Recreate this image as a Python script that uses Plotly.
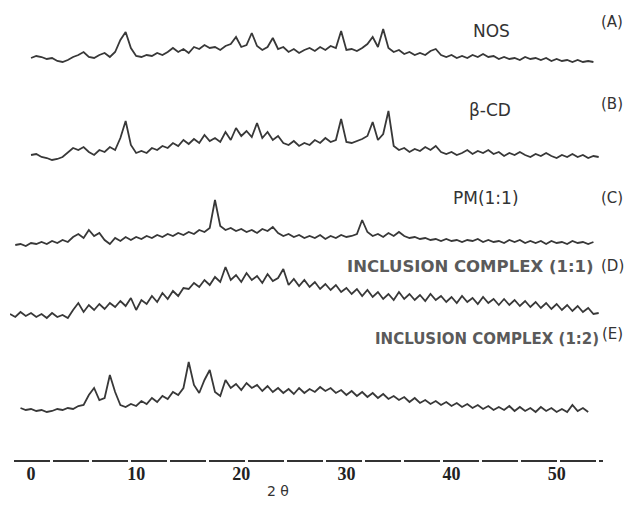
import plotly.graph_objects as go

# ---- data -------------------------------------------------------------
two_theta = [round(-2 + 0.5 * i, 1) for i in range(113)]   # -2 .. 54 deg

N = None
nos = [N, N, N, N,
       12, 14, 13, 11, 12, 9, 8, 10, 13, 15,
       18, 13, 12, 15, 17, 13, 18, 30, 38, 22,
       14, 13, 15, 14, 17, 15, 18, 22, 18, 21,
       17, 23, 21, 25, 22, 23, 20, 24, 26, 33,
       23, 25, 37, 24, 20, 23, 32, 21, 23, 18,
       21, 17, 20, 22, 19, 23, 20, 24, 22, 39,
       20, 21, 19, 22, 26, 33, 23, 41, 22, 18,
       20, 16, 18, 15, 17, 15, 19, 21, 15, 13,
       15, 12, 14, 12, 15, 13, 16, 13, 14, 11,
       13, 11, 12, 10, 13, 11, 12, 10, 12, 9,
       11, 9, 10, 8, 10, 8, 9, 8,
       N]

beta_cd = [N, N, N, N,
           10, 11, 8, 7, 5, 6, 8, 13, 17, 15,
           18, 13, 10, 15, 13, 18, 15, 27, 44, 20,
           12, 14, 12, 17, 15, 19, 17, 22, 19, 25,
           21, 26, 22, 30, 24, 27, 23, 33, 25, 37,
           29, 34, 28, 42, 27, 33, 25, 29, 22, 20,
           24, 19, 22, 20, 25, 22, 27, 23, 25, 46,
           23, 22, 24, 26, 29, 43, 25, 31, 54, 19,
           15, 17, 13, 16, 14, 18, 15, 19, 13, 11,
           13, 10, 12, 15, 11, 14, 12, 15, 11, 13,
           9, 12, 10, 13, 10, 8, 11, 9, 12, 9,
           7, 10, 8, 11, 8, 10, 7, 9, 8]

pm_11 = [N, 10, 11, 9,
         12, 11, 13, 11, 14, 12, 15, 13, 18, 21,
         17, 25, 19, 22, 15, 11, 17, 14, 18, 15,
         18, 16, 19, 17, 20, 18, 21, 19, 22, 20,
         23, 21, 25, 23, 27, 55, 29, 25, 27, 24,
         26, 23, 25, 22, 26, 24, 28, 22, 19, 21,
         18, 20, 17, 19, 17, 20, 16, 19, 17, 20,
         18, 19, 21, 35, 23, 19, 21, 18, 22, 19,
         23, 19, 17, 18, 16, 17, 15, 16, 14, 16,
         14, 15, 13, 15, 14, 16, 13, 15, 13, 14,
         12, 15, 13, 15, 12, 14, 12, 14, 11, 14,
         12, 13, 11, 14, 12, 13, 11, 13,
         N]

ic_11 = [11, 8, 13, 9,
         12, 8, 11, 7, 12, 8, 10, 7, 15, 22,
         13, 20, 15, 21, 16, 22, 18, 24, 19, 27,
         15, 25, 21, 29, 23, 32, 26, 34, 29, 37,
         36, 42, 38, 45, 40, 48, 43, 58, 45, 50,
         43, 52, 45, 49, 42, 51, 44, 47, 56, 40,
         46, 39, 45, 38, 43, 36, 41, 35, 40, 33,
         37, 31, 36, 29, 35, 28, 33, 26, 31, 25,
         33, 26, 31, 25, 30, 24, 31, 25, 29, 23,
         28, 22, 29, 23, 27, 21, 28, 22, 26, 20,
         26, 20, 25, 19, 24, 18, 23, 17, 22, 16,
         21, 15, 20, 14, 19, 13, 17, 11, 12]

ic_12 = [N, N, 12, 10,
         11, 9, 10, 8, 9, 11, 10, 12, 11, 14,
         15, 25, 32, 20, 22, 45, 28, 15, 13, 16,
         14, 19, 16, 22, 18, 24, 21, 28, 25, 32,
         58, 35, 27, 40, 50, 28, 24, 40, 32, 36,
         30, 37, 32, 35, 29, 34, 28, 32, 27, 31,
         26, 32, 27, 31, 28, 33, 29, 32, 27, 30,
         25, 29, 24, 28, 23, 27, 22, 26, 21, 24,
         20, 23, 18, 22, 17, 20, 16, 19, 15, 18,
         14, 17, 13, 16, 12, 15, 11, 14, 10, 13,
         10, 14, 9, 13, 9, 12, 8, 13, 9, 12,
         8, 11, 8, 15, 9, 12, 8, N, N]

series = [nos, beta_cd, pm_11, ic_11, ic_12]
names = ["NOS", "β-CD", "PM(1:1)", "INCLUSION COMPLEX (1:1)", "INCLUSION COMPLEX (1:2)"]
letters = ["(A)", "(B)", "(C)", "(D)", "(E)"]
x_ticks = [0, 10, 20, 30, 40, 50]

# ---- layout constants (screen pixels; page body has an 8px margin) -----
OFF = 8
W, H = 633 - 2 * OFF, 505 - OFF
PL, PR, PT, PB = 10, 605, 8, 461        # plot area on screen
ML, MR, MT, MB = PL - OFF, W - (PR - OFF), PT - OFF, H - (PB - OFF)
PW, PH = PR - PL, PB - PT
base_px = [70, 165, 255, 325, 420]     # screen row of intensity 0 for each panel
span = [50, 60, 60, 65, 65]            # intensity range shown in each panel


def sx(px):
    return (px - PL) / PW


def sy(py):
    return (PB - py) / PH


line_col = "#383838"
fig = go.Figure()
layout_axes = {}
for k, (ys, nm) in enumerate(zip(series, names)):
    ax = "y" if k == 0 else f"y{k+1}"
    fig.add_trace(go.Scatter(x=two_theta, y=ys, mode="lines", name=nm,
                             yaxis=ax, connectgaps=False,
                             line=dict(color=line_col, width=1.8)))
    key = "yaxis" if k == 0 else f"yaxis{k+1}"
    layout_axes[key] = dict(domain=[sy(base_px[k]), sy(base_px[k] - span[k])],
                            range=[0, span[k]], visible=False, fixedrange=True)

fig.update_layout(**layout_axes)

fig.update_layout(
    width=W, height=H,
    margin=dict(l=ML, r=MR, t=MT, b=MB, pad=0),
    paper_bgcolor="white", plot_bgcolor="white",
    showlegend=False,
    xaxis=dict(range=[-2.0, 54.6], tickvals=x_ticks, ticktext=[str(v) for v in x_ticks],
               showgrid=False, zeroline=False, showline=False, ticks="",
               tickfont=dict(family="Liberation Serif", size=18, color="#222",
                             weight="bold"),
               anchor="free", position=0, fixedrange=True),
)

# dashed baseline axis
fig.add_shape(type="line", xref="paper", yref="paper",
              x0=sx(14), x1=sx(603), y0=0, y1=0,
              line=dict(color="#333", width=2.2, dash="36px,3px"))

# panel labels
lab_pos = [(491, 31), (490, 110), (486, 198), (470, 266), (487, 339)]
lab_size = [17, 17, 17, 16.5, 15]
lab_bold = [False, False, False, True, True]
let_pos = [(612, 22), (612, 104), (612, 198), (612, 266), (612, 334)]
for k in range(5):
    grey = k >= 3
    fig.add_annotation(text=names[k], xref="paper", yref="paper",
                       x=sx(lab_pos[k][0]), y=sy(lab_pos[k][1]),
                       showarrow=False, xanchor="center", yanchor="middle",
                       font=dict(family="DejaVu Sans", size=lab_size[k],
                                 weight="bold" if lab_bold[k] else "normal",
                                 color="#5a5a5a" if grey else "#333"))
    fig.add_annotation(text=letters[k], xref="paper", yref="paper",
                       x=sx(let_pos[k][0]), y=sy(let_pos[k][1]),
                       showarrow=False, xanchor="center", yanchor="middle",
                       font=dict(family="DejaVu Sans", size=15, color="#333"))

fig.add_annotation(text="2 θ", xref="paper", yref="paper",
                   x=sx(278), y=sy(491),
                   showarrow=False, xanchor="center", yanchor="middle",
                   font=dict(family="DejaVu Sans", size=14, color="#333"))

fig.write_html("out.html")
